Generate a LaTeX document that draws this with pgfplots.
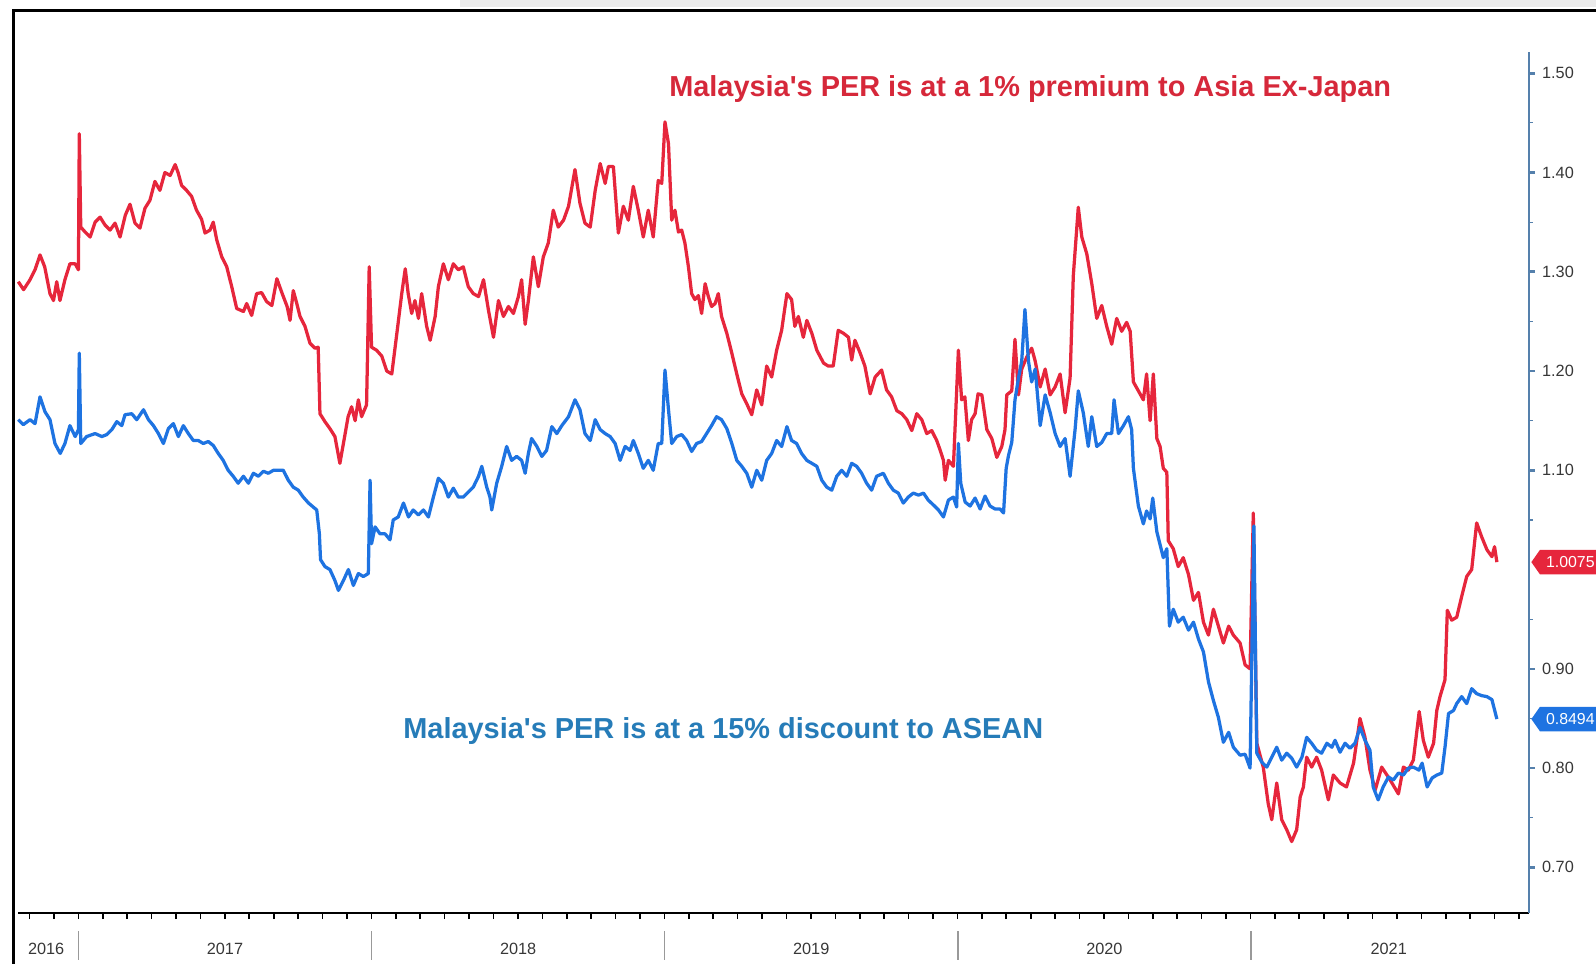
\documentclass[border=0pt]{standalone}
\usepackage{fontspec}
\setmainfont{Liberation Sans}
\usepackage{pgfplots}
\usepackage{pgfplotstable}
\pgfplotsset{compat=1.18}
\usetikzlibrary{shapes.symbols}

\definecolor{linered}{RGB}{230,38,60}
\definecolor{lineblue}{RGB}{30,115,225}
\definecolor{titlered}{RGB}{214,40,58}
\definecolor{titleblue}{RGB}{38,124,184}
\definecolor{axisblue}{RGB}{85,128,172}
\definecolor{labelgray}{RGB}{55,55,55}

% Malaysia PER relative to Asia ex-Japan (red)
\pgfplotstableread{
year value
2016.795 1.290
2016.813 1.282
2016.835 1.292
2016.852 1.302
2016.869 1.317
2016.885 1.305
2016.903 1.278
2016.915 1.271
2016.926 1.290
2016.937 1.271
2016.954 1.292
2016.971 1.308
2016.989 1.308
2017.000 1.302
2017.003 1.439
2017.008 1.345
2017.023 1.340
2017.040 1.335
2017.057 1.350
2017.074 1.355
2017.091 1.347
2017.108 1.342
2017.125 1.349
2017.142 1.335
2017.160 1.357
2017.176 1.368
2017.193 1.349
2017.210 1.344
2017.227 1.364
2017.244 1.372
2017.261 1.391
2017.278 1.382
2017.295 1.400
2017.313 1.397
2017.330 1.408
2017.340 1.400
2017.352 1.387
2017.369 1.382
2017.386 1.376
2017.403 1.362
2017.420 1.353
2017.432 1.339
2017.449 1.342
2017.460 1.350
2017.472 1.332
2017.489 1.315
2017.506 1.305
2017.523 1.285
2017.540 1.263
2017.563 1.260
2017.574 1.268
2017.591 1.256
2017.608 1.278
2017.625 1.279
2017.642 1.270
2017.660 1.266
2017.677 1.293
2017.694 1.279
2017.712 1.265
2017.722 1.251
2017.733 1.281
2017.745 1.268
2017.756 1.255
2017.773 1.245
2017.790 1.228
2017.807 1.223
2017.818 1.224
2017.824 1.157
2017.841 1.149
2017.858 1.142
2017.875 1.134
2017.892 1.107
2017.910 1.137
2017.920 1.154
2017.932 1.164
2017.944 1.150
2017.955 1.171
2017.966 1.154
2017.983 1.166
2017.992 1.305
2018.000 1.224
2018.017 1.221
2018.035 1.215
2018.052 1.200
2018.069 1.197
2018.086 1.237
2018.103 1.278
2018.115 1.303
2018.125 1.278
2018.137 1.258
2018.148 1.271
2018.160 1.253
2018.171 1.278
2018.188 1.245
2018.200 1.231
2018.217 1.255
2018.228 1.285
2018.245 1.308
2018.262 1.292
2018.279 1.308
2018.296 1.302
2018.313 1.305
2018.330 1.285
2018.347 1.278
2018.365 1.275
2018.382 1.292
2018.399 1.261
2018.416 1.234
2018.433 1.271
2018.450 1.255
2018.467 1.265
2018.484 1.258
2018.501 1.275
2018.512 1.292
2018.524 1.247
2018.535 1.271
2018.552 1.315
2018.569 1.285
2018.586 1.315
2018.603 1.329
2018.620 1.362
2018.637 1.345
2018.655 1.352
2018.672 1.366
2018.694 1.403
2018.711 1.369
2018.728 1.349
2018.746 1.345
2018.763 1.382
2018.780 1.409
2018.797 1.389
2018.808 1.406
2018.825 1.406
2018.842 1.339
2018.859 1.366
2018.876 1.352
2018.893 1.386
2018.910 1.362
2018.927 1.335
2018.944 1.362
2018.961 1.335
2018.978 1.392
2018.990 1.389
2019.001 1.451
2019.013 1.429
2019.024 1.352
2019.035 1.362
2019.047 1.340
2019.058 1.342
2019.069 1.329
2019.081 1.305
2019.092 1.278
2019.103 1.272
2019.115 1.276
2019.126 1.258
2019.138 1.288
2019.149 1.275
2019.160 1.265
2019.172 1.268
2019.183 1.278
2019.194 1.255
2019.212 1.238
2019.229 1.218
2019.246 1.197
2019.263 1.177
2019.280 1.167
2019.297 1.156
2019.314 1.181
2019.331 1.166
2019.348 1.205
2019.365 1.194
2019.382 1.221
2019.399 1.241
2019.417 1.278
2019.433 1.272
2019.444 1.245
2019.456 1.255
2019.473 1.234
2019.485 1.251
2019.502 1.238
2019.519 1.221
2019.542 1.208
2019.558 1.205
2019.575 1.205
2019.592 1.241
2019.610 1.238
2019.627 1.234
2019.638 1.211
2019.649 1.231
2019.667 1.218
2019.683 1.205
2019.701 1.177
2019.718 1.194
2019.740 1.201
2019.757 1.181
2019.774 1.174
2019.792 1.160
2019.809 1.157
2019.826 1.151
2019.843 1.140
2019.860 1.157
2019.877 1.151
2019.894 1.137
2019.911 1.140
2019.928 1.130
2019.939 1.121
2019.951 1.110
2019.957 1.090
2019.968 1.110
2019.985 1.104
2020.002 1.221
2020.013 1.171
2020.024 1.174
2020.036 1.130
2020.047 1.151
2020.059 1.157
2020.069 1.177
2020.082 1.176
2020.099 1.141
2020.116 1.132
2020.133 1.113
2020.150 1.124
2020.161 1.141
2020.167 1.176
2020.184 1.180
2020.195 1.232
2020.207 1.176
2020.218 1.202
2020.235 1.214
2020.252 1.223
2020.264 1.210
2020.281 1.184
2020.298 1.202
2020.315 1.176
2020.332 1.184
2020.349 1.197
2020.366 1.158
2020.383 1.193
2020.394 1.296
2020.411 1.365
2020.423 1.335
2020.440 1.318
2020.457 1.288
2020.474 1.253
2020.491 1.266
2020.508 1.245
2020.525 1.227
2020.542 1.253
2020.559 1.240
2020.576 1.249
2020.588 1.240
2020.599 1.189
2020.616 1.180
2020.633 1.171
2020.644 1.197
2020.656 1.150
2020.667 1.197
2020.679 1.132
2020.690 1.124
2020.701 1.102
2020.713 1.098
2020.718 1.029
2020.735 1.021
2020.752 1.003
2020.769 1.012
2020.787 0.995
2020.804 0.969
2020.821 0.977
2020.838 0.947
2020.855 0.934
2020.872 0.960
2020.889 0.943
2020.906 0.926
2020.924 0.943
2020.940 0.934
2020.963 0.926
2020.980 0.904
2020.997 0.900
2021.008 1.057
2021.020 0.825
2021.042 0.801
2021.059 0.764
2021.071 0.748
2021.088 0.785
2021.105 0.748
2021.122 0.738
2021.139 0.726
2021.156 0.738
2021.168 0.771
2021.179 0.781
2021.190 0.811
2021.207 0.801
2021.224 0.811
2021.241 0.798
2021.264 0.768
2021.281 0.793
2021.304 0.785
2021.326 0.781
2021.350 0.805
2021.372 0.850
2021.389 0.831
2021.406 0.798
2021.424 0.778
2021.446 0.801
2021.475 0.788
2021.503 0.774
2021.520 0.801
2021.537 0.798
2021.554 0.808
2021.574 0.857
2021.588 0.828
2021.605 0.811
2021.623 0.825
2021.634 0.858
2021.645 0.872
2021.662 0.889
2021.670 0.959
2021.685 0.949
2021.702 0.952
2021.719 0.973
2021.736 0.993
2021.753 1.000
2021.770 1.047
2021.787 1.033
2021.805 1.020
2021.822 1.013
2021.831 1.023
2021.839 1.0075
}\asiaxj

% Malaysia PER relative to ASEAN (blue)
\pgfplotstableread{
year value
2016.795 1.151
2016.812 1.146
2016.835 1.151
2016.852 1.147
2016.869 1.174
2016.886 1.159
2016.903 1.151
2016.920 1.127
2016.938 1.117
2016.954 1.127
2016.971 1.145
2016.989 1.134
2017.000 1.141
2017.003 1.218
2017.008 1.127
2017.028 1.134
2017.057 1.137
2017.080 1.134
2017.097 1.136
2017.114 1.141
2017.131 1.149
2017.148 1.145
2017.159 1.156
2017.182 1.157
2017.199 1.151
2017.222 1.161
2017.239 1.151
2017.256 1.145
2017.273 1.137
2017.290 1.127
2017.307 1.142
2017.324 1.147
2017.341 1.134
2017.358 1.145
2017.375 1.137
2017.392 1.130
2017.409 1.130
2017.426 1.127
2017.443 1.129
2017.460 1.125
2017.477 1.117
2017.494 1.110
2017.511 1.100
2017.528 1.094
2017.545 1.087
2017.563 1.094
2017.580 1.087
2017.597 1.097
2017.614 1.094
2017.631 1.099
2017.648 1.097
2017.665 1.100
2017.682 1.100
2017.699 1.100
2017.716 1.090
2017.733 1.083
2017.750 1.080
2017.767 1.073
2017.785 1.067
2017.801 1.063
2017.813 1.060
2017.822 1.036
2017.826 1.010
2017.841 1.003
2017.858 1.000
2017.875 0.989
2017.887 0.979
2017.904 0.989
2017.921 1.000
2017.938 0.984
2017.955 0.996
2017.972 0.993
2017.989 0.996
2017.995 1.090
2018.000 1.026
2018.012 1.043
2018.029 1.036
2018.046 1.036
2018.063 1.030
2018.074 1.050
2018.091 1.053
2018.109 1.067
2018.126 1.053
2018.142 1.060
2018.160 1.055
2018.177 1.060
2018.194 1.053
2018.211 1.073
2018.228 1.092
2018.245 1.087
2018.262 1.073
2018.279 1.082
2018.296 1.073
2018.313 1.073
2018.330 1.078
2018.347 1.083
2018.365 1.094
2018.376 1.104
2018.393 1.083
2018.404 1.073
2018.410 1.060
2018.427 1.087
2018.444 1.104
2018.461 1.124
2018.478 1.110
2018.495 1.114
2018.512 1.110
2018.524 1.097
2018.535 1.117
2018.546 1.132
2018.564 1.124
2018.581 1.114
2018.597 1.120
2018.615 1.144
2018.632 1.137
2018.649 1.145
2018.672 1.154
2018.694 1.171
2018.711 1.161
2018.728 1.137
2018.746 1.130
2018.763 1.151
2018.780 1.141
2018.797 1.137
2018.814 1.134
2018.831 1.127
2018.848 1.110
2018.865 1.124
2018.882 1.120
2018.893 1.130
2018.910 1.117
2018.927 1.102
2018.944 1.110
2018.961 1.100
2018.978 1.127
2018.990 1.127
2019.001 1.201
2019.013 1.161
2019.024 1.127
2019.041 1.134
2019.058 1.136
2019.075 1.130
2019.092 1.119
2019.109 1.127
2019.126 1.129
2019.143 1.137
2019.160 1.145
2019.177 1.154
2019.194 1.151
2019.212 1.142
2019.229 1.127
2019.246 1.110
2019.263 1.104
2019.280 1.097
2019.297 1.083
2019.314 1.100
2019.331 1.090
2019.348 1.110
2019.365 1.117
2019.382 1.130
2019.399 1.124
2019.417 1.144
2019.433 1.130
2019.450 1.127
2019.467 1.117
2019.485 1.110
2019.502 1.107
2019.519 1.104
2019.536 1.090
2019.553 1.083
2019.570 1.080
2019.587 1.094
2019.604 1.100
2019.621 1.094
2019.638 1.107
2019.655 1.104
2019.672 1.097
2019.689 1.087
2019.706 1.080
2019.723 1.094
2019.746 1.097
2019.763 1.087
2019.780 1.080
2019.797 1.077
2019.814 1.067
2019.831 1.073
2019.848 1.077
2019.866 1.075
2019.883 1.077
2019.899 1.070
2019.917 1.065
2019.934 1.060
2019.951 1.053
2019.968 1.070
2019.985 1.073
2019.996 1.063
2020.002 1.127
2020.010 1.087
2020.025 1.068
2020.042 1.064
2020.059 1.072
2020.076 1.061
2020.093 1.074
2020.110 1.064
2020.127 1.061
2020.144 1.061
2020.156 1.057
2020.165 1.102
2020.173 1.115
2020.184 1.128
2020.195 1.171
2020.207 1.193
2020.218 1.210
2020.229 1.262
2020.241 1.210
2020.252 1.189
2020.264 1.202
2020.281 1.145
2020.298 1.176
2020.315 1.158
2020.332 1.137
2020.349 1.124
2020.366 1.132
2020.383 1.094
2020.400 1.141
2020.411 1.180
2020.428 1.158
2020.445 1.124
2020.457 1.154
2020.474 1.124
2020.491 1.128
2020.508 1.137
2020.525 1.137
2020.533 1.171
2020.548 1.137
2020.565 1.145
2020.582 1.154
2020.593 1.141
2020.599 1.102
2020.616 1.064
2020.633 1.046
2020.644 1.059
2020.656 1.051
2020.665 1.072
2020.679 1.038
2020.690 1.025
2020.701 1.012
2020.713 1.021
2020.722 0.943
2020.735 0.960
2020.752 0.947
2020.769 0.952
2020.787 0.939
2020.804 0.947
2020.821 0.930
2020.838 0.917
2020.855 0.887
2020.872 0.868
2020.889 0.851
2020.906 0.826
2020.924 0.836
2020.940 0.821
2020.963 0.813
2020.980 0.814
2020.997 0.800
2021.010 1.044
2021.020 0.815
2021.037 0.806
2021.054 0.801
2021.071 0.811
2021.088 0.821
2021.105 0.808
2021.122 0.815
2021.139 0.810
2021.156 0.801
2021.174 0.811
2021.190 0.831
2021.207 0.825
2021.224 0.818
2021.241 0.815
2021.259 0.825
2021.276 0.821
2021.287 0.828
2021.304 0.816
2021.321 0.825
2021.338 0.820
2021.355 0.825
2021.372 0.841
2021.389 0.828
2021.406 0.818
2021.417 0.781
2021.434 0.768
2021.451 0.781
2021.469 0.791
2021.486 0.788
2021.503 0.795
2021.520 0.793
2021.537 0.800
2021.554 0.801
2021.573 0.798
2021.584 0.805
2021.601 0.781
2021.618 0.790
2021.634 0.793
2021.651 0.795
2021.662 0.821
2021.674 0.855
2021.691 0.858
2021.702 0.865
2021.719 0.872
2021.736 0.865
2021.753 0.880
2021.770 0.875
2021.787 0.873
2021.805 0.872
2021.822 0.869
2021.839 0.8494
}\asean

\begin{document}
\begin{tikzpicture}
% page: 784pt x 473.5pt (0.5pt per reference pixel)
\path[use as bounding box] (0pt,0pt) rectangle (784pt,473.5pt);
\fill[black!8] (226pt,473.5pt) rectangle (784pt,470pt);
\draw[line width=1.5pt] (6.5pt,-2pt) -- (6.5pt,468.5pt) -- (790pt,468.5pt);

\begin{axis}[
  at={(9pt,25pt)}, anchor=south west,
  scale only axis, width=742pt, height=423pt,
  xmin=2016.795, xmax=2021.948,
  ymin=0.654, ymax=1.5215,
  clip=false,
  axis x line*=bottom, axis y line*=right,
  x axis line style={black, line width=1.2pt, -},
  y axis line style={axisblue, line width=0.8pt, -},
  tick align=outside,
  xtick={2016.83333,2016.91667,...,2021.95},
  xticklabels={},
  x tick style={black, line width=0.8pt},
  major tick length=3pt,
  extra x ticks={2016.89,2017.5,2018.5,2019.5,2020.5,2021.47},
  extra x tick labels={2016,2017,2018,2019,2020,2021},
  extra x tick style={major tick length=0pt,
    xticklabel style={anchor=north, yshift=-11.5pt}},
  xticklabel style={font=\fontsize{8}{9}\selectfont, text=labelgray},
  ytick={0.7,0.8,0.9,1.1,1.2,1.3,1.4,1.5},
  minor ytick={0.75,0.85,0.95,1.05,1.15,1.25,1.35,1.45},
  y tick style={axisblue, line width=1.3pt},
  minor y tick style={axisblue, line width=0.6pt},
  minor tick length=2pt,
  yticklabel style={font=\fontsize{8}{9}\selectfont, text=labelgray,
    /pgf/number format/.cd, fixed, fixed zerofill, precision=2},
  /pgf/number format/assume math mode=true,
]
\addplot[linered, line width=1.6pt, line join=round, no markers] table[x=year, y=value] {\asiaxj};
\addplot[lineblue, line width=1.6pt, line join=round, no markers] table[x=year, y=value] {\asean};

\draw[black!40, line width=0.7pt] ([yshift=-9pt]axis cs:2017,0.654) -- ([yshift=-23pt]axis cs:2017,0.654);
\draw[black!40, line width=0.7pt] ([yshift=-9pt]axis cs:2018,0.654) -- ([yshift=-23pt]axis cs:2018,0.654);
\draw[black!40, line width=0.7pt] ([yshift=-9pt]axis cs:2019,0.654) -- ([yshift=-23pt]axis cs:2019,0.654);
\draw[black!40, line width=0.7pt] ([yshift=-9pt]axis cs:2020,0.654) -- ([yshift=-23pt]axis cs:2020,0.654);
\draw[black!40, line width=0.7pt] ([yshift=-9pt]axis cs:2021,0.654) -- ([yshift=-23pt]axis cs:2021,0.654);

\node[font=\bfseries\fontsize{14.2}{16}\selectfont, text=titlered]
  at (axis cs:2020.247,1.484) {Malaysia\textquotesingle s PER is at a 1\% premium to Asia Ex-Japan};
\node[font=\bfseries\fontsize{14.2}{16}\selectfont, text=titleblue]
  at (axis cs:2019.200,0.837) {Malaysia\textquotesingle s PER is at a 15\% discount to ASEAN};

\node[signal, signal to=west, signal pointer angle=110, fill=linered, text=white,
  font=\fontsize{7.8}{8}\selectfont, inner xsep=3pt, inner ysep=1.5pt,
  minimum height=12pt, anchor=west] at ([xshift=1pt]axis cs:2021.948,1.0075) {1.0075};
\node[signal, signal to=west, signal pointer angle=110, fill=lineblue, text=white,
  font=\fontsize{7.8}{8}\selectfont, inner xsep=3pt, inner ysep=1.5pt,
  minimum height=12pt, anchor=west] at ([xshift=1pt]axis cs:2021.948,0.8494) {0.8494};
\end{axis}
\end{tikzpicture}
\end{document}
